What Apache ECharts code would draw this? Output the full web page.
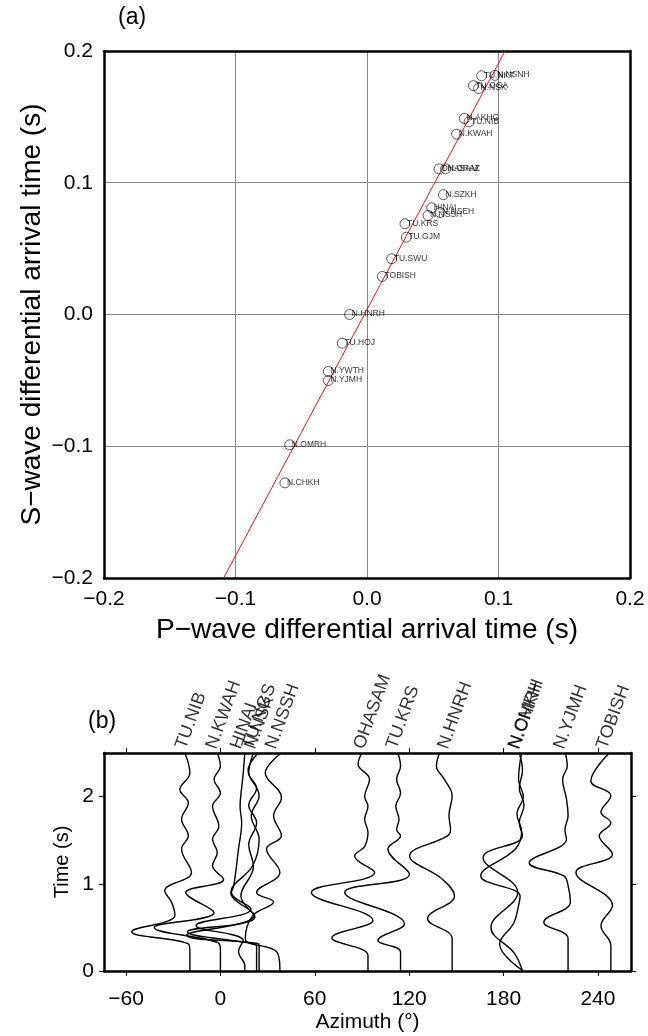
<!DOCTYPE html>
<html><head><meta charset="utf-8">
<script src="https://cdn.jsdelivr.net/npm/echarts@6/dist/echarts.min.js"></script>
<style>html,body{margin:0;padding:0;background:#fff}#c{width:648px;height:1036px}</style>
</head><body><div id="c"></div>
<script>
// ---------- Panel (a): differential arrival times ----------
const stationsA = ['TU.NKT','N.NSNH','TU.OGA','N.NSK','N.AKHG','TU.NIB','N.KWAH','OHASAM','N.ORAZ','N.SZKH','HINAI','N.NSEH','N.NSSH','TU.KRS','TU.GJM','TU.SWU','TOBISH','N.HNRH','TU.HOJ','N.YWTH','N.YJMH','N.OMRH','N.CHKH'];
const pDiff = [0.0872,0.0973,0.0810,0.0848,0.0741,0.0776,0.0682,0.0548,0.0598,0.0581,0.0492,0.0555,0.0464,0.0289,0.0299,0.0188,0.0117,-0.0132,-0.0188,-0.0294,-0.0294,-0.0588,-0.0624];
const sDiff = [0.1812,0.1815,0.1737,0.1716,0.1488,0.1462,0.1369,0.1105,0.1106,0.0909,0.0810,0.0774,0.0752,0.0689,0.0587,0.0423,0.0289,0.0000,-0.0218,-0.0433,-0.0501,-0.0989,-0.1278];
const fitP = [-0.109, 0.105];
const fitS = [-0.2, 0.2];

// ---------- Panel (b): waveforms vs azimuth ----------
const traceStations = ['TU.NIB','N.KWAH','HINAI','TU.NGS','N.NSK','N.NSSH','OHASAM','TU.KRS','N.HNRH','N.OMRH','N.CHKH','N.YJMH','TOBISH'];
const traceAzimuth = [-19.4, 0, 15.5, 23, 24.6, 37.8, 93.8, 114.5, 147.3, 192, 192.5, 221, 248.2];
// each trace: [offset (deg), time (s)]
const wfTUNIB = [[0,0],[0,0.22],[-1,0.31],[-37,0.45],[-9.5,0.64],[-11.7,0.79],[-16,0.92],[1,1.13],[-5.3,1.40],[-1,1.55],[-5.3,1.74],[-1,1.93],[-6.4,2.08],[0,2.27],[-3.2,2.5]];
const wfNKWAH = [[0,0],[0,0.25],[-2,0.33],[-42,0.50],[-4,0.67],[-22,0.90],[2,1.05],[-5,1.21],[-2,1.36],[-5,1.51],[-1,1.66],[-5,1.89],[0,2.04],[-4,2.2],[0,2.35],[-2,2.5]];
const wfHINAI = [[0,0],[0,0.06],[-4,0.22],[-1,0.35],[-31,0.52],[4,0.71],[-8.5,0.90],[-7,0.98],[-4,1.4],[-2,1.7],[-3,1.89],[-2,2.1],[-1,2.27],[0,2.5]];
const wfTUNGS = [[0,0],[0,0.29],[-1,0.31],[-44,0.45],[-1,0.62],[-10,0.86],[-2,1.2],[-5,1.45],[0,1.7],[-5,1.9],[0,2.1],[-5,2.27],[-2,2.5]];
const wfNNSK = [[0,0],[0,0.3],[-2,0.32],[-46,0.41],[-3,0.64],[-18,0.90],[-4,1.21],[0,1.51],[-5,1.78],[0,2.01],[-7,2.3],[-0.6,2.5]];
const wfNNSSH = [[0,0],[0,0.03],[-2,0.22],[-22,0.37],[-17,0.64],[-4,0.79],[-14.8,0.90],[0,1.13],[-8.5,1.40],[1,1.55],[-4,1.78],[1,1.99],[-9.3,2.27],[1,2.5]];
const wfOHASAM = [[0,0],[0,0.18],[-23,0.38],[3.2,0.58],[-36,0.90],[4.2,1.13],[-8.5,1.32],[-2.1,1.43],[0,1.59],[-2.1,1.74],[0,1.89],[-2.1,2.0],[1,2.2],[-6.3,2.37],[-4,2.5]];
const wfTUKRS = [[0,0],[0,0.22],[-14.4,0.35],[2.5,0.54],[-35.5,0.90],[5.7,1.11],[-8,1.40],[0,1.55],[-2.5,1.62],[-1,1.74],[-3,1.89],[0,2.04],[-2.5,2.2],[0,2.35],[-1.7,2.5]];
const wfNHNRH = [[0,0],[0,0.37],[-15.6,0.60],[1.5,0.86],[-6,1.05],[-27,1.32],[-3,1.55],[-1,1.62],[-2,1.78],[0,2.01],[-5,2.2],[-10,2.35],[-8,2.5]];
const wfNOMRH = [[0,0],[-5,0.2],[-20,0.5],[-3,0.9],[-25,1.30],[0,1.55],[-2,1.7],[1,1.9],[-2,2.1],[0,2.3],[-2,2.5]];
const wfNCHKH = [[0,0],[-15,0.31],[-6,0.55],[-3,0.75],[-2,0.86],[-27,1.09],[-5,1.4],[-1,1.6],[-4,1.8],[0,2.0],[-3,2.2],[-2,2.4],[-1,2.5]];
const wfNYJMH = [[0,0],[0,0.37],[-15.4,0.56],[1.5,0.79],[0,0.98],[-2.7,1.09],[-24.7,1.24],[-1,1.51],[-2,1.62],[0,1.78],[-1,1.97],[-3.5,2.2],[-0.5,2.35],[-1.7,2.5]];
const wfTOBISH = [[0,0],[0,0.29],[-6.3,0.52],[1,0.75],[-22.2,1.13],[1,1.34],[-7.4,1.55],[0,1.70],[-6.3,1.82],[0,2.01],[-12.7,2.18],[-1,2.5]];
const traces = [wfTUNIB,wfNKWAH,wfHINAI,wfTUNGS,wfNNSK,wfNNSSH,wfOHASAM,wfTUKRS,wfNHNRH,wfNOMRH,wfNCHKH,wfNYJMH,wfTOBISH];

const azTicks = [-60,0,60,120,180,240];
const timeTicks = [0,1,2];
const FONT = 'Liberation Sans, Arial, Helvetica, sans-serif';
const minus = s => String(s).replace('-', '\u2212');

const chart = echarts.init(document.getElementById('c'));
const frameLine = {show:true, onZero:false, lineStyle:{color:'#000', width:2.5}};
const noTick = {show:false};

const series = [];
series.push({type:'line', xAxisIndex:0, yAxisIndex:0, data:[[fitP[0],fitS[0]],[fitP[1],fitS[1]]],
  symbol:'none', lineStyle:{color:'#e8141b', width:1}, silent:true, clip:true, z:3});
series.push({type:'scatter', xAxisIndex:0, yAxisIndex:0, z:4,
  data: stationsA.map((n,i)=>({name:n, value:[pDiff[i], sDiff[i]]})),
  symbol:'circle', symbolSize:10,
  itemStyle:{color:'rgba(0,0,0,0)', borderColor:'#000', borderWidth:0.8},
  label:{show:true, formatter:p=>p.name, position:[7.5,5], align:'left', verticalAlign:'middle',
    fontSize:8.5, fontFamily:FONT, color:'#000'}
});
traces.forEach((tr,i)=>{
  series.push({type:'line', xAxisIndex:2, yAxisIndex:2, smooth:0.4, symbol:'none', clip:true,
    data: tr.map(p=>[traceAzimuth[i]+p[0], p[1]]),
    lineStyle:{color:'#000', width:1.4}, silent:true, z:3});
});
series.push({type:'scatter', xAxisIndex:2, yAxisIndex:2, clip:false, symbolSize:1,
  itemStyle:{color:'rgba(0,0,0,0)'}, z:5,
  data: traceStations.map((n,i)=>({name:n, value:[traceAzimuth[i], 2.5]})),
  label:{show:true, formatter:p=>p.name, position:[0,-1], rotate:70, align:'left', verticalAlign:'bottom',
    fontSize:18, fontFamily:FONT, color:'#000'}
});

const G = {outerBoundsMode:'none', containLabel:false};
chart.setOption({
  animation:false,
  backgroundColor:'#fff',
  title:[
    {text:'(a)', left:118, top:6, padding:0, textStyle:{fontSize:23, fontWeight:'normal', fontFamily:FONT, color:'#000'}},
    {text:'(b)', left:88, top:710, padding:0, textStyle:{fontSize:23, fontWeight:'normal', fontFamily:FONT, color:'#000'}}
  ],
  grid:[
    Object.assign({left:104, top:51, width:526, height:527}, G),
    Object.assign({left:104, top:51, width:526, height:527}, G),
    Object.assign({left:104, top:753, width:527, height:218}, G),
    Object.assign({left:104, top:753, width:527, height:218}, G)
  ],
  xAxis:[
    {gridIndex:0, type:'value', min:-0.2, max:0.2, interval:0.1, position:'bottom',
      axisLine:frameLine, axisTick:noTick, nameMoveOverlap:false,
      axisLabel:{fontSize:21, fontFamily:FONT, color:'#000', margin:11, formatter:v=>minus(v.toFixed(1))},
      splitLine:{show:true, lineStyle:{color:'#888', width:1}},
      name:'P\u2212wave differential arrival time (s)', nameLocation:'middle', nameGap:38,
      nameTextStyle:{fontSize:28, fontFamily:FONT, color:'#000'}},
    {gridIndex:1, type:'value', min:-0.2, max:0.2, interval:0.1, position:'top',
      axisLine:frameLine, axisTick:noTick, axisLabel:{show:false}, splitLine:{show:false}},
    {gridIndex:2, type:'value', min:-74, max:261, position:'bottom', nameMoveOverlap:false,
      axisLine:frameLine,
      axisLabel:{fontSize:21, fontFamily:FONT, color:'#000', margin:18, formatter:v=>minus(v), customValues:azTicks},
      axisTick:{show:true, inside:false, length:5, lineStyle:{color:'#000'}, customValues:azTicks},
      splitLine:{show:false},
      name:'Azimuth (\u00b0)', nameLocation:'middle', nameGap:41,
      nameTextStyle:{fontSize:21, fontFamily:FONT, color:'#000'}},
    {gridIndex:3, type:'value', min:-74, max:261, position:'top',
      axisLine:frameLine, axisLabel:{show:false}, splitLine:{show:false},
      axisTick:{show:true, inside:false, length:5, lineStyle:{color:'#000'}, customValues:azTicks}}
  ],
  yAxis:[
    {gridIndex:0, type:'value', min:-0.2, max:0.2, interval:0.1, position:'left',
      axisLine:frameLine, axisTick:noTick, nameMoveOverlap:false,
      axisLabel:{fontSize:21, fontFamily:FONT, color:'#000', margin:11, formatter:v=>minus(v.toFixed(1))},
      splitLine:{show:true, lineStyle:{color:'#888', width:1}},
      name:'S\u2212wave differential arrival time (s)', nameLocation:'middle', nameGap:58, nameRotate:90,
      nameTextStyle:{fontSize:28, fontFamily:FONT, color:'#000'}},
    {gridIndex:1, type:'value', min:-0.2, max:0.2, interval:0.1, position:'right',
      axisLine:frameLine, axisTick:noTick, axisLabel:{show:false}, splitLine:{show:false}},
    {gridIndex:2, type:'value', min:0, max:2.5, position:'left', nameMoveOverlap:false,
      axisLine:frameLine,
      axisTick:{show:true, inside:false, length:5, lineStyle:{color:'#000'}, customValues:timeTicks},
      axisLabel:{fontSize:21, fontFamily:FONT, color:'#000', margin:10, customValues:timeTicks},
      splitLine:{show:false},
      name:'Time (s)', nameLocation:'middle', nameGap:32, nameRotate:90,
      nameTextStyle:{fontSize:20, fontFamily:FONT, color:'#000'}},
    {gridIndex:3, type:'value', min:0, max:2.5, position:'right',
      axisLine:frameLine, axisLabel:{show:false}, splitLine:{show:false},
      axisTick:{show:true, inside:false, length:5, lineStyle:{color:'#000'}, customValues:timeTicks}}
  ],
  series: series
});
</script></body></html>
